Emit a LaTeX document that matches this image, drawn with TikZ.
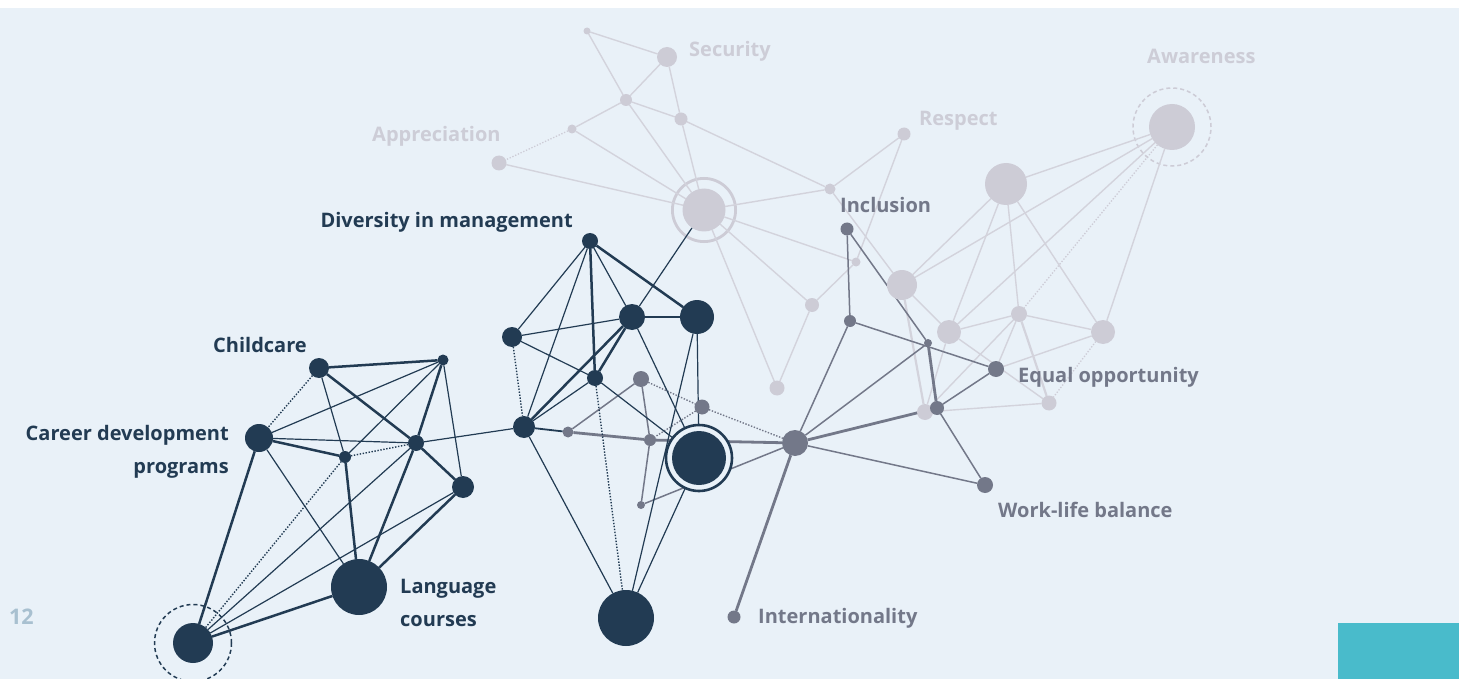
\documentclass[tikz,border=0pt]{standalone}
\usepackage{fontspec}
\setmainfont{Open Sans}
\definecolor{bgc}{HTML}{E9F1F8}
\definecolor{navy}{HTML}{223B53}
\definecolor{grayc}{HTML}{737889}
\definecolor{lnode}{HTML}{CDCCD6}
\definecolor{lline}{HTML}{D3D3DC}
\definecolor{ltext}{HTML}{CDCDD7}
\definecolor{numc}{HTML}{A8C0D0}
\definecolor{tealc}{HTML}{49BBCB}
\pgfdeclarelayer{back}
\pgfdeclarelayer{edges}
\pgfsetlayers{back,edges,main}
\tikzset{
 nd/.style={circle, inner sep=0pt, outer sep=0pt, minimum size=#1},
 dk/.style={nd=#1, fill=navy},
 gy/.style={nd=#1, fill=grayc},
 lt/.style={nd=#1, fill=lnode},
 dthick/.style={draw=navy, line width=2.5pt},
 dthin/.style={draw=navy, line width=1.2pt},
 dmid/.style={draw=navy, line width=1.8pt},
 ddot/.style={draw=navy, line width=1.4pt, dash pattern=on 1.4pt off 1.6pt},
 gthick/.style={draw=grayc, line width=2.8pt},
 gthin/.style={draw=grayc, line width=1.5pt},
 gdot/.style={draw=grayc, line width=1.4pt, dash pattern=on 1.4pt off 1.6pt},
 lthin/.style={draw=lline, line width=1.4pt},
 lthick/.style={draw=lline, line width=2.2pt},
 ldot/.style={draw=lnode, line width=1.3pt, dash pattern=on 1.3pt off 1.7pt},
 lab/.style={font=\bfseries\fontsize{20}{24}\selectfont, inner sep=0pt},
}
\begin{document}
\begin{tikzpicture}[x=1pt,y=-1pt]
\useasboundingbox (0,0) rectangle (1459,679);
\begin{pgfonlayer}{back}
\fill[white] (0,0) rectangle (1459,679);
\fill[bgc] (0,8) rectangle (1459,679);
\fill[tealc] (1338,623) rectangle (1459,679);
\end{pgfonlayer}
% light nodes
\node[lt=7pt] (la) at (587,31) {};
\node[lt=20pt] (sec) at (667,57) {};
\node[lt=12pt] (lb) at (626,100) {};
\node[lt=13pt] (lc2) at (681,119) {};
\node[lt=9pt] (ld) at (572,129) {};
\node[lt=15pt] (app) at (499,163) {};
\node[lt=43pt] (ring) at (704,210) {};
\node[lt=11pt] (le) at (830,189) {};
\node[lt=13pt] (rsp) at (904,134) {};
\node[lt=9pt] (lf) at (856,262) {};
\node[lt=14pt] (lg) at (812,305) {};
\node[lt=15pt] (lh) at (777,388) {};
\node[lt=30pt] (li) at (902,285) {};
\node[lt=42pt] (lj) at (1006,184) {};
\node[lt=46pt] (aw) at (1172,127) {};
\node[lt=24pt] (lk) at (949,332) {};
\node[lt=16pt] (ll) at (1019,314) {};
\node[lt=24pt] (lm) at (1103,332) {};
\node[lt=15pt] (ln) at (1049,403) {};
\node[lt=16pt] (lo) at (925,412) {};
% gray nodes
\node[gy=16pt] (g1) at (641,379) {};
\node[gy=15pt] (g2) at (702,407) {};
\node[gy=11pt] (g3) at (568,432) {};
\node[gy=12pt] (g4) at (650,440) {};
\node[gy=8pt] (g5) at (641,505) {};
\node[gy=26pt] (hubg) at (795,443) {};
\node[gy=13pt] (int) at (734,617) {};
\node[gy=13pt] (inc) at (847,229) {};
\node[gy=12pt] (r1) at (850,321) {};
\node[gy=8pt] (r2) at (928,343) {};
\node[gy=16pt] (eq) at (996,369) {};
\node[gy=14pt] (r3) at (937,408) {};
\node[gy=16pt] (wl) at (985,485) {};
% dark nodes
\node[dk=20pt] (ch) at (319,368) {};
\node[dk=11pt] (tr) at (443,360) {};
\node[dk=28pt] (cd) at (259,438) {};
\node[dk=12pt] (sm) at (345,457) {};
\node[dk=16pt] (hb) at (416,443) {};
\node[dk=22pt] (rn) at (463,487) {};
\node[dk=56pt] (lc) at (359,587) {};
\node[dk=40pt] (bl) at (193,643) {};
\node[dk=16pt] (dm) at (590,241) {};
\node[dk=20pt] (ml) at (512,337) {};
\node[dk=26pt] (mc) at (632,317) {};
\node[dk=34pt] (mr) at (697,317) {};
\node[dk=16pt] (ms) at (595,378) {};
\node[dk=22pt] (mll) at (524,427) {};
\node[nd=66pt, draw=navy, line width=2.6pt, fill=bgc] (big) at (699,458) {};
\node[dk=54pt] (bigc) at (big.center) {};
\node[dk=56pt] (bot) at (626,618) {};
% labels
\node[lab, text=navy, anchor=base east] (tdm) at (573,228) {Diversity in management};
\node[lab, text=navy, anchor=base east] (tch) at (307,352) {Childcare};
\node[lab, text=navy, anchor=base east] (tcd1) at (229,440) {Career development};
\node[lab, text=navy, anchor=base east] (tcd2) at (229,473) {programs};
\node[lab, text=navy, anchor=base west] (tlc1) at (400,593) {Language};
\node[lab, text=navy, anchor=base west] (tlc2) at (400,626) {courses};
\node[lab, text=numc, anchor=base west, font=\bfseries\fontsize{21.5}{24}\selectfont] (tnum) at (9,624) {12};
\node[lab, text=grayc, anchor=base west] (tint) at (758,623) {Internationality};
\node[lab, text=grayc, anchor=base west] (twl) at (998,517) {Work-life balance};
\node[lab, text=grayc, anchor=base west] (teq) at (1018,382) {Equal opportunity};
\node[lab, text=grayc, anchor=base west] (tinc) at (840,213) {Inclusion};
\node[lab, text=ltext, anchor=base west] (trsp) at (919,126) {Respect};
\node[lab, text=ltext, anchor=base west] (taw) at (1147,64) {Awareness};
\node[lab, text=ltext, anchor=base west] (tsec) at (689,57) {Security};
\node[lab, text=ltext, anchor=base west] (tapp) at (372,142) {Appreciation};
\begin{pgfonlayer}{edges}
% rings
\draw[lnode, line width=2.8pt] (ring.center) circle[radius=31.6pt];
\draw[lnode, line width=1.5pt, dash pattern=on 4pt off 3pt] (aw.center) circle[radius=39pt];
\draw[navy, line width=1.5pt, dash pattern=on 4pt off 3pt] (bl.center) circle[radius=38.5pt];
% light edges
\draw[lthin] (la) -- (sec);
\draw[lthin] (la) -- (lb);
\draw[lthin] (sec) -- (lb);
\draw[lthin] (sec) -- (lc2);
\draw[lthin] (lb) -- (lc2);
\draw[lthin] (lb) -- (ld);
\draw[lthin] (lb) -- (ring);
\draw[ldot] (ld) -- (app);
\draw[lthin] (ld) -- (ring);
\draw[lthin] (app) -- (ring);
\draw[lthin] (lc2) -- (ring);
\draw[lthin] (lc2) -- (le);
\draw[lthin] (ring) -- (le);
\draw[lthin] (le) -- (rsp);
\draw[lthin] (le) -- (li);
\draw[lthin] (rsp) -- (lf);
\draw[lthin] (lf) -- (lg);
\draw[lthin] (lg) -- (lh);
\draw[lthin] (ring) -- (lf);
\draw[lthin] (ring) -- (lg);
\draw[lthin] (ring) -- (lh);
\draw[lthin] (lj) -- (aw);
\draw[lthin] (li) -- (lj);
\draw[lthin] (li) -- (aw);
\draw[lthin] (aw) -- (lk);
\draw[ldot] (aw) -- (ll);
\draw[lthin] (aw) -- (lm);
\draw[lthin] (lj) -- (lk);
\draw[lthin] (lj) -- (ll);
\draw[lthin] (lj) -- (lm);
\draw[lthin] (li) -- (lk);
\draw[lthick] (li) -- (lo);
\draw[lthin] (lk) -- (ll);
\draw[lthin] (ll) -- (lm);
\draw[lthin] (lk) -- (ln);
\draw[lthick] (ll) -- (ln);
\draw[lthin] (ll) -- (lo);
\draw[lthin] (ll) -- (eq);
\draw[lthin] (lm) -- (eq);
\draw[ldot] (lm) -- (ln);
\draw[lthin] (ln) -- (lo);
\draw[lthin] (lk) -- (lo);
% gray edges
\draw[gthin] (g3) -- (g1);
\draw[gthick] (g3) -- (g4);
\draw[gthick] (g4) -- (hubg);
\draw[gthin] (g1) -- (g4);
\draw[gdot] (g1) -- (g2);
\draw[gdot] (g2) -- (hubg);
\draw[gdot] (g2) -- (g4);
\draw[gthin] (g4) -- (g5);
\draw[gthin] (g5) -- (hubg);
\draw[gthick] (hubg) -- (int);
\draw[gthin] (hubg) -- (r1);
\draw[gthin] (hubg) -- (r2);
\draw[gthick] (hubg) -- (r3);
\draw[gthin] (hubg) -- (wl);
\draw[gthin] (inc) -- (r1);
\draw[gthin] (inc) -- (r2);
\draw[gthin] (r1) -- (eq);
\draw[gthick] (r2) -- (r3);
\draw[gthin] (r3) -- (eq);
\draw[gthin] (r3) -- (wl);
% dark edges, left cluster
\draw[dthick] (ch) -- (tr);
\draw[dthick] (ch) -- (hb);
\draw[dthick] (hb) -- (rn);
\draw[dthick] (cd) -- (sm);
\draw[dthick] (cd) -- (bl);
\draw[dthick] (sm) -- (lc);
\draw[dthick] (tr) -- (hb);
\draw[dthick] (hb) -- (lc);
\draw[dthick] (rn) -- (lc);
\draw[dthick] (lc) -- (bl);
\draw[dthin] (cd) -- (tr);
\draw[dthin] (cd) -- (hb);
\draw[dthin] (cd) -- (lc);
\draw[dthin] (ch) -- (sm);
\draw[dthin] (tr) -- (sm);
\draw[dthin] (tr) -- (rn);
\draw[dthin] (bl) -- (hb);
\draw[dthin] (bl) -- (rn);
\draw[dthin] (hb) -- (mll);
\draw[ddot] (ch) -- (cd);
\draw[ddot] (sm) -- (hb);
\draw[ddot] (bl) -- (sm);
% dark edges, middle cluster
\draw[dthick] (dm) -- (ms);
\draw[dthick] (dm) -- (mr);
\draw[dthick] (mc) -- (mll);
\draw[dthick] (mc) -- (ms);
\draw[dthin] (dm) -- (ml);
\draw[dthin] (dm) -- (mll);
\draw[dthin] (dm) -- (mc);
\draw[dthin] (ml) -- (mc);
\draw[dthin] (ml) -- (ms);
\draw[dthin] (ms) -- (big);
\draw[dthin] (ms) -- (mll);
\draw[dthin] (mc) -- (mr);
\draw[dthin] (mc) -- (big);
\draw[dthin] (mc) -- (ring);
\draw[dthin] (mr) -- (big);
\draw[dthin] (mr) -- (bot);
\draw[dthin] (mll) -- (bot);
\draw[dthin] (big) -- (bot);
\draw[dmid] (mll) -- (g3);
\draw[ddot] (ml) -- (mll);
\draw[ddot] (ms) -- (bot);
\end{pgfonlayer}
\end{tikzpicture}
\end{document}
